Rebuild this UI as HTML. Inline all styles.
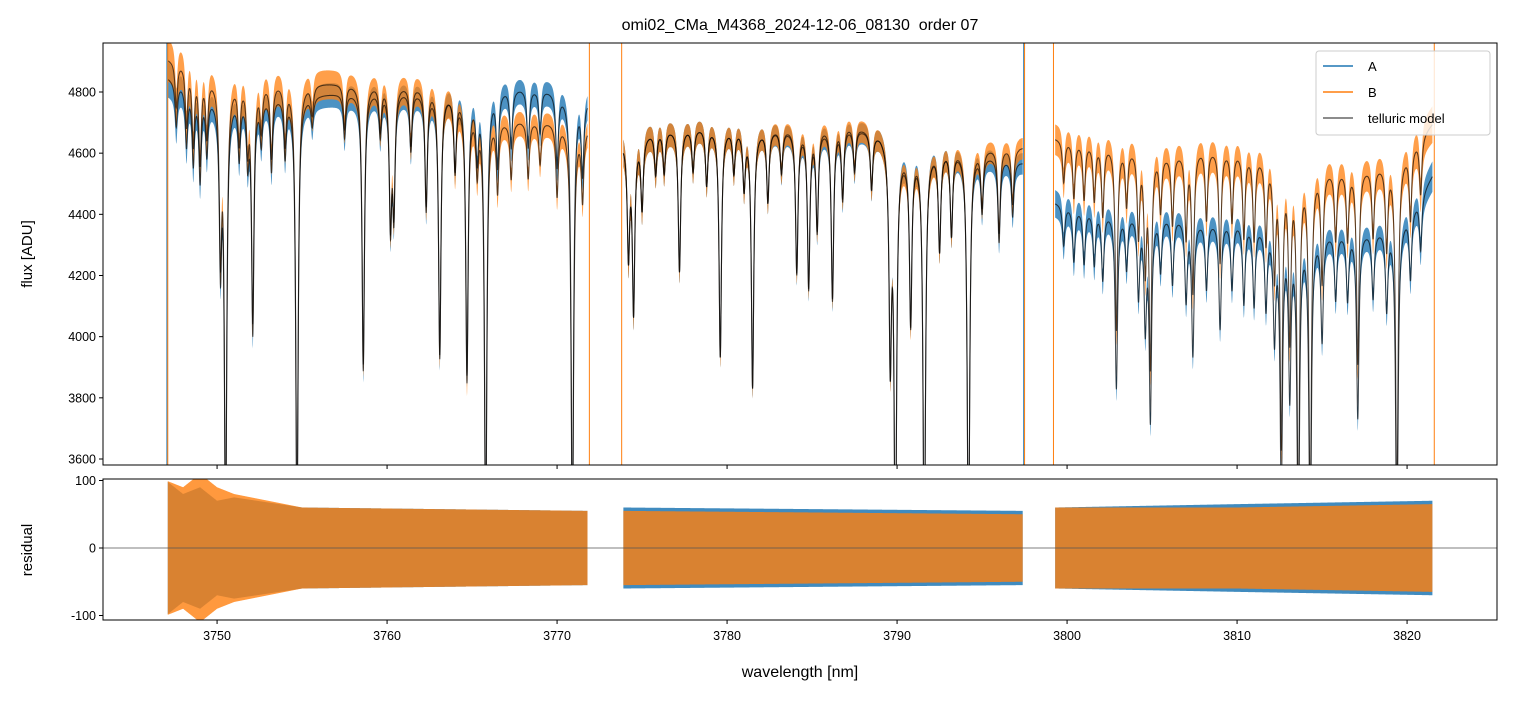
<!DOCTYPE html>
<html><head><meta charset="utf-8"><style>
body{margin:0;background:#fff;}
svg text{font-family:"Liberation Sans","DejaVu Sans",sans-serif;fill:#000;}
</style></head><body>
<svg id="chart" width="1513" height="696" xmlns="http://www.w3.org/2000/svg">
<rect width="1513" height="696" fill="#fff"/>
<text x="800" y="30" font-size="16" text-anchor="middle">omi02_CMa_M4368_2024-12-06_08130&#160; order 07</text>
<defs>
<clipPath id="clipTop"><rect x="103" y="43" width="1394" height="422"/></clipPath>
<clipPath id="clipBot"><rect x="103" y="479" width="1394" height="141"/></clipPath>
</defs>
<g id="topPanel"></g>
<g id="botPanel"></g>
<text transform="translate(32,254) rotate(-90)" font-size="15" text-anchor="middle">flux [ADU]</text>
<text transform="translate(32,550) rotate(-90)" font-size="15" text-anchor="middle">residual</text>
<text x="800" y="677" font-size="16" text-anchor="middle">wavelength [nm]</text>
<g id="legend">
<rect x="1316" y="51" width="174" height="84" rx="3" fill="#fff" fill-opacity="0.8" stroke="#ccc"/>
<line x1="1323" y1="66" x2="1353" y2="66" stroke="#1f77b4" stroke-width="1.5"/>
<text x="1368" y="71" font-size="13">A</text>
<line x1="1323" y1="92" x2="1353" y2="92" stroke="#ff7f0e" stroke-width="1.5"/>
<text x="1368" y="97" font-size="13">B</text>
<line x1="1323" y1="118" x2="1353" y2="118" stroke="#000" stroke-opacity="0.6" stroke-width="1.5"/>
<text x="1368" y="123" font-size="13">telluric model</text>
</g>
</svg>
<script>
const segStart=[3747.1,3773.9,3799.3];
const segEnd=[3771.8,3797.4,3821.5];
const contWl=[3747,3748,3750,3752,3755,3758,3760,3763,3765,3767,3769,3771.8,3773.9,3776,3779,3782,3785,3787,3789,3790.5,3793,3795,3797.4,3799.3,3801,3803,3806,3808,3810,3812,3814,3816,3818,3819.5,3820.5,3821.5];
const contA=[4850,4830,4790,4790,4790,4800,4810,4800,4800,4815,4815,4780,4640,4680,4690,4680,4680,4690,4670,4610,4620,4600,4570,4440,4420,4410,4400,4380,4380,4360,4350,4345,4350,4370,4440,4530];
const contB=[4910,4900,4850,4840,4830,4830,4830,4820,4760,4710,4710,4690,4640,4680,4690,4680,4690,4700,4670,4600,4620,4620,4620,4650,4640,4630,4600,4620,4610,4590,4560,4550,4560,4580,4640,4700];
const noiseA=[60,50,40,40,40,40,40,40,40,40,40,40,45,40,35,35,35,35,35,35,35,35,35,45,45,40,40,40,40,40,40,40,40,40,45,50];
const noiseB=[70,60,50,50,50,45,45,45,45,40,40,40,45,40,35,35,35,35,35,35,35,35,35,50,50,50,50,50,50,50,50,50,50,50,55,60];
const resWl=[3747,3748,3749,3750,3751,3755,3771.8,3773.9,3797.4,3799.3,3810,3821.5];
const resA=[100,80,90,70,75,60,55,60,55,60,65,70];
const resB=[100,90,110,90,80,60,55,55,50,60,60,65];
const lineWl=[3747.6,3748.2,3748.6,3749.0,3749.4,3750.2,3750.5,3751.3,3751.8,3752.1,3752.6,3753.2,3754.0,3754.7,3755.6,3757.5,3758.6,3759.6,3760.2,3760.4,3761.4,3762.3,3763.1,3764.0,3764.7,3765.3,3765.8,3766.5,3767.3,3768.3,3769.0,3770.0,3770.9,3771.5,
3774.2,3774.5,3775.0,3775.8,3776.3,3777.2,3778.0,3778.8,3779.6,3780.4,3781.0,3781.5,3782.4,3783.2,3784.1,3784.8,3785.3,3786.2,3786.8,3787.5,3788.5,3789.6,3789.9,3790.8,3791.6,3792.5,3793.2,3794.2,3795.0,3796.0,3796.8,
3799.8,3800.4,3801.0,3801.6,3802.1,3802.9,3803.5,3804.2,3804.6,3804.9,3805.5,3806.2,3807.0,3807.4,3808.2,3809.0,3809.7,3810.4,3811.0,3811.7,3812.2,3812.6,3813.1,3813.6,3814.3,3815.0,3815.8,3816.5,3817.1,3818.0,3818.8,3819.4,3820.2,3820.8];
const lineDepth=[0.03,0.04,0.05,0.06,0.04,0.11,0.3,0.04,0.04,0.16,0.03,0.05,0.04,0.3,0.02,0.03,0.19,0.03,0.09,0.08,0.04,0.08,0.18,0.05,0.19,0.04,0.3,0.05,0.04,0.04,0.03,0.05,0.3,0.05,
0.08,0.12,0.05,0.03,0.03,0.1,0.03,0.04,0.16,0.03,0.04,0.18,0.05,0.03,0.1,0.11,0.07,0.12,0.05,0.03,0.04,0.15,0.3,0.12,0.3,0.07,0.06,0.3,0.04,0.06,0.04,
0.03,0.04,0.04,0.04,0.05,0.13,0.04,0.06,0.08,0.15,0.04,0.05,0.06,0.1,0.05,0.08,0.05,0.06,0.06,0.06,0.08,0.2,0.12,0.25,0.25,0.08,0.05,0.05,0.14,0.05,0.06,0.25,0.05,0.04];
const vlinesA=[3747.05,3797.45];
const vlinesB=[3747.1,3771.9,3773.8,3797.5,3799.2,3821.6];
const yTicks=[3600,3800,4000,4200,4400,4600,4800];
const rTicks=[-100,0,100];
const xTicks=[3750,3760,3770,3780,3790,3800,3810,3820];

const NS="http://www.w3.org/2000/svg";
const X=w=>103+(w-3743.29)*17;
const Y=f=>92+(4800-f)*0.30583;
const R=r=>548-r*0.675;
function interp(xs,ys,x){if(x<=xs[0])return ys[0];for(let i=1;i<xs.length;i++){if(x<=xs[i]){const t=(x-xs[i-1])/(xs[i]-xs[i-1]);return ys[i-1]+t*(ys[i]-ys[i-1]);}}return ys[ys.length-1];}
function absorb(w){let f=1;for(let i=0;i<lineWl.length;i++){const d=(w-lineWl[i])/0.085;if(Math.abs(d)<35)f*=1-lineDepth[i]/(1+d*d);}return f;}
function el(tag,attrs,parent){const e=document.createElementNS(NS,tag);for(const k in attrs)e.setAttribute(k,attrs[k]);parent.appendChild(e);return e;}
const topG=document.getElementById('topPanel'),botG=document.getElementById('botPanel');
const gT=el('g',{'clip-path':'url(#clipTop)'},topG);
const gB=el('g',{'clip-path':'url(#clipBot)'},botG);
function band(g,name,color,op,fnC,fnN,Yf){
  for(let s=0;s<segStart.length;s++){
    const up=[],dn=[];
    for(let w=segStart[s];w<=segEnd[s];w+=0.01){const c=fnC(w),n=fnN(w);up.push(X(w).toFixed(2)+','+Yf(c+n).toFixed(2));dn.push(X(w).toFixed(2)+','+Yf(c-n).toFixed(2));}
    const p=el('polygon',{points:up.concat(dn.reverse()).join(' '),fill:color,'fill-opacity':op},g);
    
    
  }
}
function modelLine(g,name,fnC){
  for(let s=0;s<segStart.length;s++){
    const pts=[];
    for(let w=segStart[s];w<=segEnd[s];w+=0.01)pts.push(X(w).toFixed(2)+','+Y(fnC(w)).toFixed(2));
    const p=el('polyline',{points:pts.join(' '),fill:'none',stroke:'#000','stroke-opacity':0.65,'stroke-width':1.1},g);
    
    
  }
}
const mA=w=>interp(contWl,contA,w)*absorb(w), mB=w=>interp(contWl,contB,w)*absorb(w);
const nA=w=>interp(contWl,noiseA,w)*(0.6+0.4*absorb(w)), nB=w=>interp(contWl,noiseB,w)*(0.6+0.4*absorb(w));
band(gT,'series-a-flux','#1f77b4',0.8,mA,nA,Y);
band(gT,'series-b-flux','#ff7f0e',0.75,mB,nB,Y);
modelLine(gT,'telluric-model-a',mA);
modelLine(gT,'telluric-model-b',mB);
vlinesA.forEach(v=>{const l=el('line',{x1:X(v),x2:X(v),y1:43,y2:465,stroke:'#1f77b4','stroke-width':1},gT);

});
vlinesB.forEach(v=>{const l=el('line',{x1:X(v),x2:X(v),y1:43,y2:465,stroke:'#ff7f0e','stroke-width':1},gT);

});
band(gB,'series-a-residual','#1f77b4',0.85,w=>0,w=>interp(resWl,resA,w),R);
band(gB,'series-b-residual','#ff7f0e',0.8,w=>0,w=>interp(resWl,resB,w),R);
const z=el('line',{x1:103,x2:1497,y1:R(0),y2:R(0),stroke:'#555','stroke-width':0.8},gB);


const f1=el('rect',{x:103,y:43,width:1394,height:422,fill:'none',stroke:'#000','stroke-width':1},topG);


const f2=el('rect',{x:103,y:479,width:1394,height:141,fill:'none',stroke:'#000','stroke-width':1},botG);


yTicks.forEach(t=>{const y=Y(t);el('line',{x1:99,x2:103,y1:y,y2:y,stroke:'#000'},topG);const tx=el('text',{x:96,y:y+4.5,'font-size':12.5,'text-anchor':'end'},topG);tx.textContent=t;

});
rTicks.forEach(t=>{const y=R(t);el('line',{x1:99,x2:103,y1:y,y2:y,stroke:'#000'},botG);const tx=el('text',{x:96,y:y+4.5,'font-size':12.5,'text-anchor':'end'},botG);tx.textContent=t;

});
xTicks.forEach(t=>{const x=X(t);el('line',{x1:x,x2:x,y1:465,y2:469,stroke:'#000'},topG);el('line',{x1:x,x2:x,y1:620,y2:624,stroke:'#000'},botG);const tx=el('text',{x:x,y:640,'font-size':12.5,'text-anchor':'middle'},botG);tx.textContent=t;

});
document.getElementById('chart').appendChild(document.getElementById('legend'));
</script>
</body></html>
